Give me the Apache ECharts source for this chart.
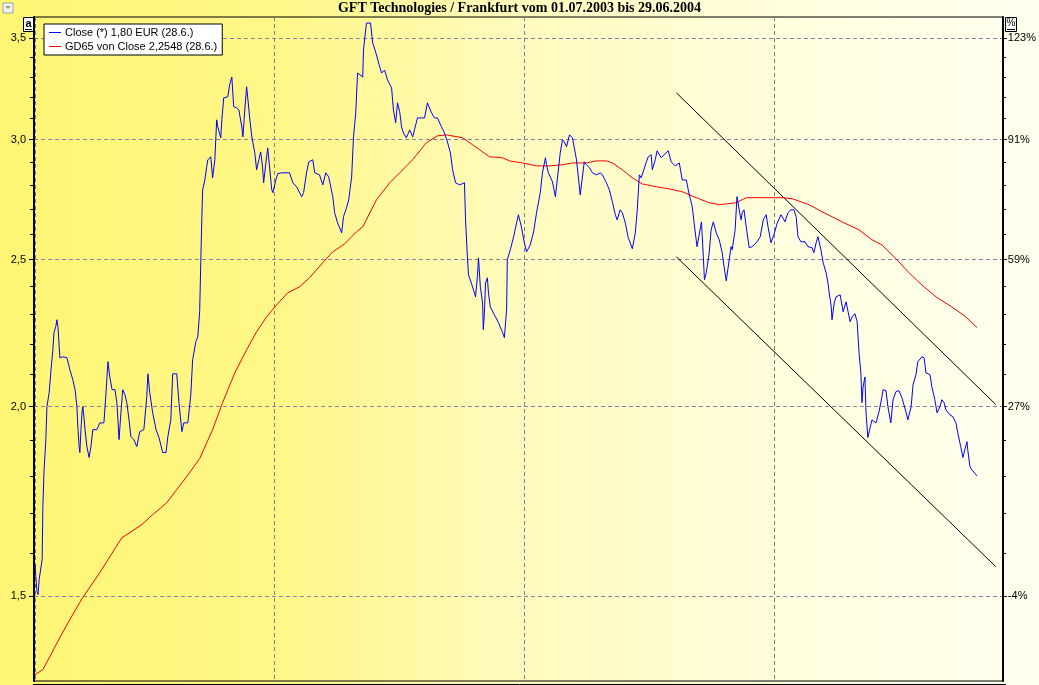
<!DOCTYPE html>
<html>
<head>
<meta charset="utf-8">
<script src="https://cdn.jsdelivr.net/npm/echarts@6/dist/echarts.min.js"></script>
<style>
  html, body { margin: 0; padding: 0; }
  #chart { width: 1039px; height: 685px; }
</style>
</head>
<body>
<div id="chart"></div>
<script>
// x = Handelstag seit 01.07.2003, y = Kurs in EUR (log. Skala)
const closeDays = [
  0.3, 0.5, 0.8, 1.1, 1.4, 2.2, 2.4, 2.7, 3.2, 3.5,
  4.1, 4.6, 5.1, 5.4, 5.9, 6.2, 6.5, 7.0, 7.8, 8.9,
  9.7, 10.5, 11.1, 11.6, 11.9, 12.2, 12.4, 12.7, 13.0, 13.2,
  13.5, 13.8, 14.3, 14.9, 15.4, 15.9, 17.0, 17.8, 18.9, 19.4,
  20.0, 20.5, 21.1, 21.9, 22.4, 22.7, 23.0, 23.5, 24.0, 24.6,
  25.1, 25.7, 26.2, 27.0, 27.8, 28.6, 29.7, 30.5, 30.8, 31.3,
  32.1, 33.0, 33.8, 34.8, 35.7, 36.2, 37.0, 37.5, 38.6, 39.2,
  40.0, 40.5, 41.6, 42.4, 42.9, 43.8, 44.3, 44.8, 45.1, 45.4,
  45.6, 46.2, 46.7, 47.0, 47.8, 48.3, 48.9, 49.4, 49.7, 50.5,
  50.8, 51.3, 52.4, 52.9, 53.5, 54.0, 54.8, 55.4, 56.2, 56.5,
  57.0, 57.5, 57.8, 58.3, 58.9, 59.7, 60.2, 60.8, 61.3, 61.8,
  62.1, 62.7, 63.2, 63.7, 64.3, 64.6, 65.4, 65.9, 67.0, 69.1,
  70.0, 71.0, 72.4, 72.9, 73.7, 74.3, 75.4, 75.9, 77.2, 78.1,
  78.9, 79.7, 80.8, 81.3, 82.1, 83.2, 83.7, 84.5, 85.1, 85.9,
  86.4, 87.0, 87.5, 88.0, 88.9, 89.1, 89.9, 91.0, 91.6, 92.4,
  93.2, 94.0, 94.8, 95.6, 96.7, 97.2, 97.8, 98.3, 98.9, 99.4,
  99.9, 100.7, 101.6, 102.4, 103.7, 105.6, 106.4, 107.5, 108.3, 109.1,
  110.2, 111.0, 111.8, 112.6, 113.2, 114.0, 115.1, 116.4, 116.7, 117.2,
  117.5, 118.6, 119.4, 119.9, 120.2, 120.7, 121.3, 121.5, 121.8, 122.1,
  122.6, 122.9, 123.4, 124.5, 125.6, 126.7, 127.2, 127.8, 128.0, 128.8,
  129.7, 130.5, 131.0, 131.8, 132.6, 133.2, 134.2, 135.1, 135.9, 136.9,
  137.5, 138.3, 138.6, 139.1, 140.2, 141.0, 141.5, 142.3, 142.9, 143.4,
  144.0, 144.8, 145.6, 146.7, 147.2, 147.7, 148.3, 148.8, 149.4, 150.2,
  151.0, 152.1, 153.2, 153.7, 154.8, 155.6, 156.4, 157.2, 157.7, 158.5,
  159.1, 159.9, 160.7, 161.8, 162.6, 163.1, 163.7, 164.2, 164.5, 165.6,
  166.1, 166.9, 167.2, 168.0, 168.5, 169.6, 170.4, 171.5, 172.3, 173.4,
  174.5, 175.3, 176.4, 177.2, 178.0, 178.5, 179.3, 180.2, 180.5, 181.0,
  181.3, 181.8, 182.6, 183.1, 183.7, 184.5, 185.3, 186.1, 186.6, 187.2,
  188.0, 188.5, 188.8, 189.6, 190.1, 190.7, 191.2, 191.5, 192.0, 192.6,
  193.4, 194.2, 195.3, 196.4, 197.2, 198.0, 198.5, 199.3, 200.1, 201.0,
  202.0, 203.1, 203.9, 204.7, 205.5, 206.1, 206.6, 207.4, 208.5, 209.3,
  210.4, 210.9, 211.5, 212.0, 212.8, 213.4, 214.2, 214.7, 215.0, 215.6,
  215.8, 216.4, 216.9, 218.0, 218.8, 219.6, 220.7, 221.2, 222.0, 222.6,
  223.1, 223.6, 223.9, 224.2, 224.7, 225.0, 225.5, 226.1, 226.6, 227.7,
  228.5, 229.3, 229.6, 230.4, 230.9, 231.7, 232.3, 233.1, 233.9, 234.7,
  235.8, 236.3, 237.2, 237.7, 238.5, 239.0, 240.1, 240.7, 241.2, 242.3,
  242.8, 243.6, 244.2, 245.0, 245.5, 246.1, 246.6, 247.7, 248.5, 249.3,
  249.8, 250.6, 251.2, 251.7, 252.3, 252.5, 253.1, 253.6, 255.0
]
const closeValues = [
  1.573, 1.545, 1.510, 1.503, 1.538, 1.585, 1.718, 1.812, 1.902, 2.000,
  2.043, 2.115, 2.180, 2.238, 2.259, 2.282, 2.255, 2.154, 2.157, 2.154,
  2.115, 2.083, 2.052, 2.000, 1.931, 1.882, 1.865, 1.931, 1.984, 2.000,
  1.969, 1.931, 1.882, 1.851, 1.882, 1.931, 1.931, 1.951, 1.951, 2.030,
  2.141, 2.092, 2.052, 2.052, 2.012, 1.960, 1.902, 1.981, 2.052, 2.036,
  2.012, 1.960, 1.911, 1.902, 1.882, 1.925, 1.931, 2.030, 2.102, 2.043,
  1.981, 1.931, 1.908, 1.865, 1.865, 1.911, 1.960, 2.102, 2.102, 2.012,
  1.925, 1.951, 1.951, 2.036, 2.148, 2.208, 2.224, 2.310, 2.489, 2.669,
  2.780, 2.822, 2.879, 2.910, 2.923, 2.831, 2.910, 3.092, 3.059, 3.009,
  3.092, 3.197, 3.202, 3.260, 3.300, 3.154, 3.149, 3.139, 3.059, 3.013,
  3.139, 3.251, 3.197, 3.106, 3.013, 2.941, 2.866, 2.910, 2.945, 2.879,
  2.810, 2.896, 2.963, 2.879, 2.780, 2.768, 2.822, 2.849, 2.853, 2.853,
  2.810, 2.793, 2.751, 2.768, 2.853, 2.901, 2.910, 2.853, 2.844, 2.801,
  2.853, 2.835, 2.751, 2.685, 2.644, 2.604, 2.669, 2.705, 2.738, 2.835,
  3.013, 3.125, 3.320, 3.320, 3.300, 3.438, 3.582, 3.582, 3.475, 3.427,
  3.371, 3.320, 3.335, 3.285, 3.246, 3.139, 3.078, 3.173, 3.130, 3.059,
  3.031, 3.009, 3.045, 3.013, 3.101, 3.101, 3.173, 3.125, 3.101, 3.101,
  3.059, 3.031, 2.990, 2.941, 2.866, 2.810, 2.801, 2.810, 2.656, 2.511,
  2.443, 2.399, 2.363, 2.436, 2.507, 2.399, 2.341, 2.248, 2.306, 2.414,
  2.432, 2.377, 2.327, 2.299, 2.272, 2.238, 2.221, 2.317, 2.500, 2.538,
  2.589, 2.644, 2.677, 2.628, 2.565, 2.530, 2.557, 2.608, 2.685, 2.768,
  2.853, 2.919, 2.888, 2.853, 2.814, 2.751, 2.822, 2.941, 3.000, 2.990,
  2.968, 3.022, 3.009, 2.910, 2.835, 2.759, 2.835, 2.901, 2.888, 2.875,
  2.853, 2.844, 2.853, 2.844, 2.810, 2.780, 2.730, 2.677, 2.656, 2.697,
  2.685, 2.644, 2.585, 2.542, 2.604, 2.689, 2.844, 2.831, 2.835, 2.901,
  2.923, 2.932, 2.866, 2.910, 2.950, 2.919, 2.932, 2.950, 2.901, 2.883,
  2.896, 2.822, 2.822, 2.759, 2.710, 2.644, 2.550, 2.624, 2.648, 2.511,
  2.425, 2.451, 2.527, 2.616, 2.648, 2.604, 2.577, 2.527, 2.474, 2.421,
  2.500, 2.550, 2.538, 2.616, 2.751, 2.697, 2.656, 2.685, 2.697, 2.628,
  2.546, 2.550, 2.565, 2.589, 2.656, 2.677, 2.628, 2.565, 2.597, 2.644,
  2.677, 2.648, 2.685, 2.697, 2.697, 2.669, 2.589, 2.569, 2.569, 2.550,
  2.546, 2.527, 2.565, 2.589, 2.538, 2.489, 2.451, 2.414, 2.381, 2.327,
  2.282, 2.341, 2.363, 2.370, 2.310, 2.345, 2.275, 2.292, 2.303, 2.275,
  2.171, 2.105, 2.012, 2.061, 2.092, 1.981, 1.908, 1.937, 1.960, 1.951,
  1.984, 2.030, 2.052, 2.049, 2.000, 1.951, 2.021, 2.046, 2.049, 2.027,
  1.984, 1.960, 2.000, 2.067, 2.099, 2.141, 2.157, 2.154, 2.105, 2.099,
  2.061, 2.021, 1.981, 2.000, 2.021, 2.012, 1.990, 1.975, 1.969, 1.951,
  1.922, 1.882, 1.851, 1.873, 1.896, 1.873, 1.826, 1.817, 1.800
]

// GD65 (gleitender Durchschnitt 65 Tage)
const gdDays = [
  0.3, 2.4, 4.3, 7.0, 9.7, 13.0, 17.8, 20.5, 23.8, 25.9,
  29.2, 32.1, 35.9, 38.6, 41.3, 44.8, 48.3, 51.0, 54.3, 57.5,
  60.2, 62.9, 65.6, 68.6, 71.8, 74.5, 78.1, 80.8, 84.0, 87.2,
  88.9, 92.6, 96.2, 98.9, 102.4, 106.1, 109.1, 111.6, 115.9, 118.6,
  121.3, 123.2, 126.7, 128.6, 132.1, 135.9, 139.4, 142.9, 145.6, 149.4,
  152.1, 154.8, 156.4, 159.1, 161.8, 164.5, 168.3, 171.8, 175.3, 179.1,
  182.6, 185.3, 189.9, 192.6, 196.9, 202.3, 205.0, 209.6, 213.1, 218.5,
  223.1, 226.6, 229.3, 233.1, 236.6, 240.1, 243.9, 248.2, 252.0, 255.0
]
const gdValues = [
  1.331, 1.341, 1.368, 1.408, 1.447, 1.494, 1.554, 1.592, 1.639, 1.651,
  1.672, 1.697, 1.728, 1.763, 1.798, 1.848, 1.931, 2.012, 2.105, 2.180,
  2.241, 2.292, 2.334, 2.377, 2.399, 2.432, 2.489, 2.530, 2.561, 2.608,
  2.628, 2.738, 2.810, 2.853, 2.910, 2.986, 3.018, 3.022, 3.009, 2.977,
  2.945, 2.923, 2.919, 2.905, 2.896, 2.883, 2.883, 2.888, 2.896, 2.896,
  2.905, 2.905, 2.896, 2.866, 2.831, 2.805, 2.793, 2.784, 2.772, 2.747,
  2.726, 2.718, 2.726, 2.747, 2.747, 2.747, 2.743, 2.718, 2.689, 2.648,
  2.616, 2.577, 2.557, 2.504, 2.451, 2.406, 2.363, 2.327, 2.292, 2.255
]

// Trendkanal
const trendDays = [173.7, 260.1]
const trendUpper = [3.222, 2.006]
const trendLower = [2.511, 1.568]

const priceTicks = [1.5, 2.0, 2.5, 3.0, 3.5]
const priceLabels = ['1,5', '2,0', '2,5', '3,0', '3,5']
const percentLabels = ['-4%', '27%', '59%', '91%', '123%']
const minorTicks = [1.5, 1.6, 1.7, 1.8, 1.9, 2.0, 2.1, 2.2, 2.3, 2.4, 2.5,
  2.6, 2.7, 2.8, 2.9, 3.0, 3.1, 3.2, 3.3, 3.4, 3.5]
const quarterLines = [0.3, 65.1, 132.6, 200.1]

const closeName = 'Close (*) 1,80 EUR (28.6.)'
const gdName = 'GD65 von Close 2,2548 (28.6.)'

const pairs = (xs, ys) => xs.map((x, i) => [x, ys[i]])
const nearestLabel = (v, labels) => {
  let best = 0
  priceTicks.forEach((t, i) => {
    if (Math.abs(t - v) < Math.abs(priceTicks[best] - v)) best = i
  })
  return labels[best]
}

const labelFont = { fontFamily: 'Liberation Sans', fontSize: 11, color: '#000' }
const yMin = 1.318
const yMax = 3.615

const chart = echarts.init(document.getElementById('chart'))

const option = {
  animation: false,
  backgroundColor: new echarts.graphic.LinearGradient(0, 0, 1, 0, [
    { offset: 0, color: '#fff574' },
    { offset: 0.27, color: '#fff788' },
    { offset: 0.5, color: '#fffbbe' },
    { offset: 0.75, color: '#fffedd' },
    { offset: 1, color: '#ffffef' }
  ]),
  title: {
    text: 'GFT Technologies / Frankfurt vom 01.07.2003 bis 29.06.2004',
    left: 'center',
    top: 1,
    padding: 0,
    textStyle: {
      fontFamily: 'Liberation Serif',
      fontSize: 14,
      fontWeight: 'bold',
      color: '#000'
    }
  },
  legend: {
    orient: 'vertical',
    left: 44,
    top: 24,
    data: [closeName, gdName],
    icon: 'rect',
    itemWidth: 12,
    itemHeight: 1,
    itemGap: 3,
    padding: [3, 5, 3, 5],
    backgroundColor: '#fff',
    borderColor: '#000',
    borderWidth: 1,
    borderRadius: 0,
    textStyle: { fontFamily: 'Liberation Sans', fontSize: 11, color: '#000', padding: [0, 0, 0, -1] }
  },
  grid: {
    left: 34,
    right: 35,
    top: 17,
    bottom: 4,
    show: true,
    borderColor: '#000',
    borderWidth: 1,
    backgroundColor: 'transparent'
  },
  xAxis: {
    type: 'value',
    min: 0,
    max: 262,
    axisLine: { show: false },
    axisLabel: { show: false },
    axisTick: { show: false, customValues: quarterLines },
    splitLine: { show: true, lineStyle: { color: '#7f7f7f', type: [4, 3], width: 1 } }
  },
  yAxis: [
    {
      type: 'log',
      min: yMin,
      max: yMax,
      position: 'left',
      axisLine: { show: true, lineStyle: { color: '#000', width: 2 } },
      axisTick: { show: true, customValues: priceTicks, length: 5, lineStyle: { color: '#000' } },
      axisLabel: {
        customValues: priceTicks,
        margin: 8,
        ...labelFont,
        formatter: (v) => nearestLabel(v, priceLabels)
      },
      splitLine: { show: true, lineStyle: { color: '#8a7fa6', type: [4, 3], width: 1 } }
    },
    {
      type: 'log',
      min: yMin,
      max: yMax,
      position: 'right',
      axisLine: { show: true, lineStyle: { color: '#000', width: 2 } },
      axisTick: { show: true, customValues: priceTicks, length: 4, lineStyle: { color: '#000' } },
      axisLabel: {
        customValues: priceTicks,
        margin: 5,
        ...labelFont,
        formatter: (v) => nearestLabel(v, percentLabels)
      },
      splitLine: { show: false }
    },
    {
      type: 'log',
      min: yMin,
      max: yMax,
      position: 'left',
      axisLine: { show: false },
      axisTick: { show: true, customValues: minorTicks, length: 4, lineStyle: { color: '#000' } },
      axisLabel: { show: false },
      splitLine: { show: false }
    },
    {
      type: 'log',
      min: yMin,
      max: yMax,
      position: 'right',
      axisLine: { show: false },
      axisTick: { show: true, customValues: minorTicks, length: 3, lineStyle: { color: '#000' } },
      axisLabel: { show: false },
      splitLine: { show: false }
    }
  ],
  graphic: [
    // kleines Menue-Symbol oben links
    { type: 'rect', shape: { x: 3, y: 3, width: 10, height: 10 }, style: { fill: '#f2f2f2', stroke: '#a0a0a0', lineWidth: 1 } },
    { type: 'polygon', shape: { points: [[5, 6], [11, 6], [8, 9]] }, style: { fill: '#9a9a9a' } },
    // Kaestchen "a" und "%"
    { type: 'rect', shape: { x: 23.5, y: 17.5, width: 10, height: 14 }, style: { fill: '#fff', stroke: '#000', lineWidth: 1 } },
    { type: 'text', x: 25.5, y: 18, style: { text: 'a', font: 'bold 11px Liberation Sans', fill: '#000' } },
    { type: 'line', shape: { x1: 25, y1: 29.5, x2: 32, y2: 29.5 }, style: { stroke: '#000', lineWidth: 1 } },
    { type: 'rect', shape: { x: 1005.5, y: 17.5, width: 11, height: 14 }, style: { fill: '#fff', stroke: '#000', lineWidth: 1 } },
    { type: 'text', x: 1006.5, y: 18, style: { text: '%', font: '10px Liberation Sans', fill: '#000' } },
    { type: 'line', shape: { x1: 1007, y1: 29.5, x2: 1015, y2: 29.5 }, style: { stroke: '#000', lineWidth: 1 } },
    // doppelte Unterkante
    { type: 'line', shape: { x1: 33, y1: 684.5, x2: 1006, y2: 684.5 }, style: { stroke: '#000', lineWidth: 1 } }
  ],
  series: [
    {
      name: gdName,
      type: 'line',
      yAxisIndex: 0,
      data: pairs(gdDays, gdValues),
      showSymbol: false,
      lineStyle: { color: '#ff0000', width: 1 },
      itemStyle: { color: '#ff0000' },
      z: 3
    },
    {
      name: closeName,
      type: 'line',
      yAxisIndex: 0,
      data: pairs(closeDays, closeValues),
      showSymbol: false,
      lineStyle: { color: '#0000ff', width: 1 },
      itemStyle: { color: '#0000ff' },
      z: 4
    },
    {
      name: 'Trend oben',
      type: 'line',
      yAxisIndex: 0,
      data: pairs(trendDays, trendUpper),
      showSymbol: false,
      lineStyle: { color: '#000', width: 1 },
      z: 2
    },
    {
      name: 'Trend unten',
      type: 'line',
      yAxisIndex: 0,
      data: pairs(trendDays, trendLower),
      showSymbol: false,
      lineStyle: { color: '#000', width: 1 },
      z: 2
    }
  ]
}

chart.setOption(option)
</script>
</body>
</html>
